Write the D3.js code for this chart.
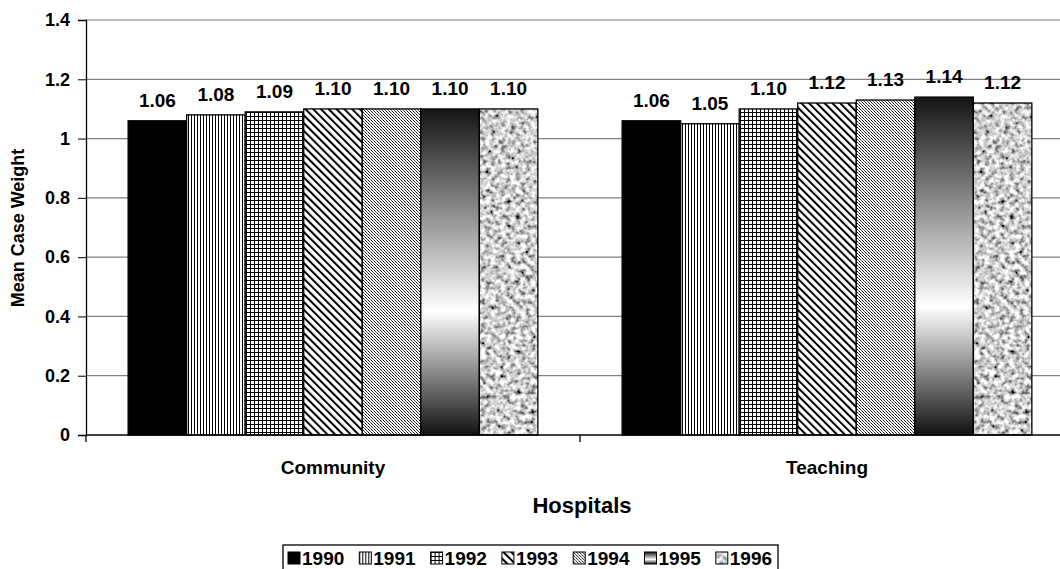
<!DOCTYPE html>
<html>
<head>
<meta charset="utf-8">
<script src="https://cdn.jsdelivr.net/npm/d3@7"></script>
<style>
  html, body { margin: 0; padding: 0; background: #fff; }
  svg { display: block; font-family: "Liberation Sans", Arial, sans-serif; }
</style>
</head>
<body>
<svg id="chart" width="1060" height="569"></svg>
<script>
// Mean case weight by hospital type and year
const categories = ["Community", "Teaching"];
const years = ["1990", "1991", "1992", "1993", "1994", "1995", "1996"];
const community = [1.06, 1.08, 1.09, 1.10, 1.10, 1.10, 1.10];
const teaching  = [1.06, 1.05, 1.10, 1.12, 1.13, 1.14, 1.12];
const yTicks = [0, 0.2, 0.4, 0.6, 0.8, 1, 1.2, 1.4];

const seriesByCategory = { Community: community, Teaching: teaching };

const svg = d3.select("#chart");
const plot = { left: 86, right: 1074, top: 20, bottom: 435 };

const x0 = d3.scaleBand().domain(categories).range([plot.left, plot.right]).paddingInner(0).paddingOuter(0);
const x1 = d3.scaleBand().domain(years).range([0, x0.bandwidth()]).paddingInner(0).paddingOuter(0.72);
const y = d3.scaleLinear().domain([0, 1.4]).range([plot.bottom, plot.top]);

// ---------- fills ----------
const defs = svg.append("defs");

// 1991: vertical lines
const p91 = defs.append("pattern").attr("id", "p1991").attr("patternUnits", "userSpaceOnUse").attr("width", 3).attr("height", 3);
p91.append("rect").attr("width", 3).attr("height", 3).attr("fill", "#fff");
p91.append("rect").attr("x", 0).attr("width", 1).attr("height", 3).attr("fill", "#000");

// 1992: fine grid
const p92 = defs.append("pattern").attr("id", "p1992").attr("patternUnits", "userSpaceOnUse").attr("width", 4).attr("height", 4);
p92.append("rect").attr("width", 4).attr("height", 4).attr("fill", "#fff");
p92.append("rect").attr("width", 1).attr("height", 4).attr("fill", "#000");
p92.append("rect").attr("width", 4).attr("height", 1).attr("fill", "#000");

// 1993: diagonal lines running down to the right
const p93 = defs.append("pattern").attr("id", "p1993").attr("patternUnits", "userSpaceOnUse")
  .attr("width", 5.5).attr("height", 5.5).attr("patternTransform", "rotate(-45)");
p93.append("rect").attr("width", 5.5).attr("height", 5.5).attr("fill", "#fff");
p93.append("rect").attr("width", 2).attr("height", 5.5).attr("fill", "#000");

// 1994: fine dotted texture
const p94 = defs.append("pattern").attr("id", "p1994").attr("patternUnits", "userSpaceOnUse").attr("width", 3).attr("height", 3);
p94.append("rect").attr("width", 3).attr("height", 3).attr("fill", "#fff");
p94.append("rect").attr("x", 0).attr("y", 0).attr("width", 1).attr("height", 1).attr("fill", "#000");
p94.append("rect").attr("x", 1).attr("y", 1).attr("width", 1).attr("height", 1).attr("fill", "#222");
p94.append("rect").attr("x", 2).attr("y", 2).attr("width", 1).attr("height", 1).attr("fill", "#555");

// 1995: dark-white-dark vertical gradient
const g95 = defs.append("linearGradient").attr("id", "g1995").attr("x1", 0).attr("y1", 0).attr("x2", 0).attr("y2", 1);
g95.append("stop").attr("offset", "0%").attr("stop-color", "#151515");
g95.append("stop").attr("offset", "62%").attr("stop-color", "#ffffff");
g95.append("stop").attr("offset", "100%").attr("stop-color", "#111111");

// 1996: granite texture
const fGran = defs.append("filter").attr("id", "granite").attr("filterUnits", "userSpaceOnUse")
  .attr("x", 0).attr("y", 0).attr("width", 1060).attr("height", 569);
fGran.append("feTurbulence").attr("type", "fractalNoise").attr("baseFrequency", 0.2).attr("numOctaves", 2).attr("seed", 7);
fGran.append("feColorMatrix").attr("type", "matrix").attr("values",
  "2.0 0 0 0 -0.38  2.0 0 0 0 -0.38  2.0 0 0 0 -0.38  0 0 0 0 1");
const p96 = defs.append("pattern").attr("id", "p1996").attr("patternUnits", "userSpaceOnUse").attr("width", 1060).attr("height", 569);
p96.append("rect").attr("width", 1060).attr("height", 569).attr("filter", "url(#granite)");

const fills = {
  "1990": "#000",
  "1991": "url(#p1991)",
  "1992": "url(#p1992)",
  "1993": "url(#p1993)",
  "1994": "url(#p1994)",
  "1995": "url(#g1995)",
  "1996": "url(#p1996)"
};

// ---------- gridlines ----------
svg.append("g").selectAll("line").data(yTicks.filter(d => d > 0)).join("line")
  .attr("x1", plot.left).attr("x2", plot.right)
  .attr("y1", d => y(d)).attr("y2", d => y(d))
  .attr("stroke", "#808080").attr("stroke-width", 1.2);

// ---------- bars ----------
const groups = svg.append("g").selectAll("g").data(categories).join("g")
  .attr("transform", c => `translate(${x0(c)},0)`);

groups.selectAll("rect").data(c => years.map((yr, i) => ({ yr, v: seriesByCategory[c][i] }))).join("rect")
  .attr("x", d => x1(d.yr))
  .attr("y", d => y(d.v))
  .attr("width", x1.bandwidth())
  .attr("height", d => y(0) - y(d.v))
  .attr("fill", d => fills[d.yr])
  .attr("stroke", "#000").attr("stroke-width", 1.3);

groups.selectAll("text").data(c => years.map((yr, i) => ({ yr, v: seriesByCategory[c][i] }))).join("text")
  .attr("x", d => x1(d.yr) + x1.bandwidth() / 2)
  .attr("y", d => y(d.v) - 14)
  .attr("text-anchor", "middle")
  .attr("font-size", 19).attr("font-weight", "bold")
  .text(d => d.v.toFixed(2));

// ---------- axes ----------
const yAxis = d3.axisLeft(y).tickValues(yTicks).tickSize(8).tickFormat(d => d === 0 || d === 1 ? String(d) : d3.format(".1f")(d));
const gy = svg.append("g").attr("transform", `translate(${plot.left},0)`).call(yAxis);
gy.select(".domain").attr("stroke", "#000").attr("stroke-width", 1.3);
gy.selectAll(".tick line").attr("stroke", "#000");
gy.selectAll(".tick text").attr("font-size", 18).attr("font-weight", "bold").attr("fill", "#000")
  .attr("font-family", "'Liberation Sans', Arial, sans-serif").attr("x", -16);

// x baseline with category separators
svg.append("line").attr("x1", plot.left).attr("x2", plot.right).attr("y1", y(0)).attr("y2", y(0))
  .attr("stroke", "#000").attr("stroke-width", 1.3);
const sep = [plot.left, x0("Teaching"), plot.right];
svg.append("g").selectAll("line").data(sep).join("line")
  .attr("x1", d => d).attr("x2", d => d).attr("y1", y(0)).attr("y2", y(0) + 7)
  .attr("stroke", "#000").attr("stroke-width", 1.3);

svg.append("g").selectAll("text").data(categories).join("text")
  .attr("x", c => x0(c) + x0.bandwidth() / 2)
  .attr("y", 474)
  .attr("text-anchor", "middle")
  .attr("font-size", 19).attr("font-weight", "bold")
  .text(c => c);

// axis titles
svg.append("text").attr("x", 582).attr("y", 513).attr("text-anchor", "middle")
  .attr("font-size", 22).attr("font-weight", "bold").text("Hospitals");
svg.append("text").attr("transform", "translate(24,228) rotate(-90)").attr("text-anchor", "middle")
  .attr("font-size", 18).attr("font-weight", "bold").text("Mean Case Weight");

// ---------- legend ----------
const legend = svg.append("g");
legend.append("rect").attr("x", 283).attr("y", 545).attr("width", 495).attr("height", 30)
  .attr("fill", "#fff").attr("stroke", "#000").attr("stroke-width", 1.3);
const lx = d3.scalePoint().domain(years).range([288, 288 + 6 * 71.3]);
const items = legend.selectAll("g").data(years).join("g")
  .attr("transform", yr => `translate(${lx(yr)},552)`);
items.append("rect").attr("width", 12).attr("height", 12).attr("y", 0)
  .attr("fill", yr => fills[yr]).attr("stroke", "#000").attr("stroke-width", 1);
items.append("text").attr("x", 14).attr("y", 13)
  .attr("font-size", 19).attr("font-weight", "bold").text(yr => yr);
</script>
</body>
</html>
